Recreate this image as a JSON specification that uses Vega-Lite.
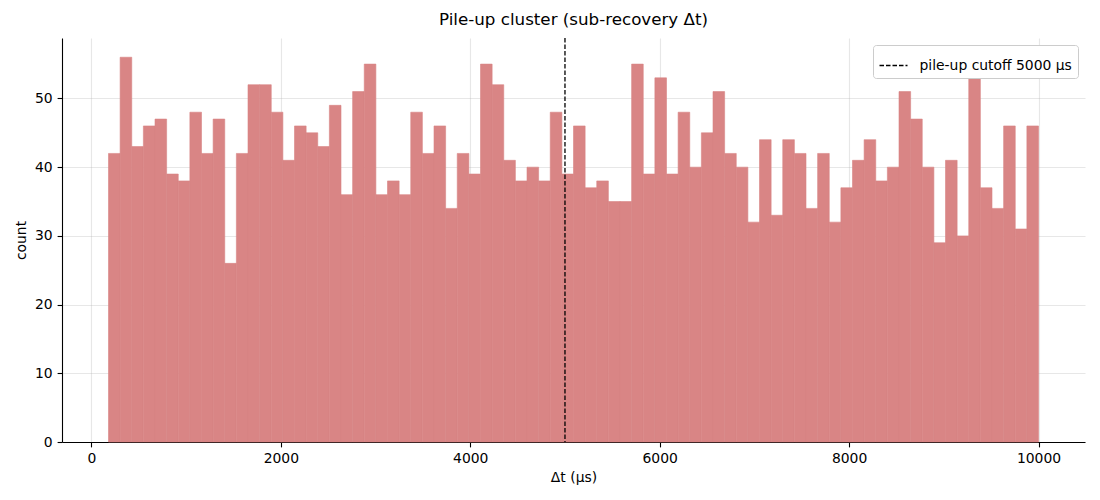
{
  "$schema": "https://vega.github.io/schema/vega-lite/v6.json",
  "width": 1023,
  "height": 404,
  "autosize": {"type": "none"},
  "padding": {"left": 62, "top": 38, "right": 15, "bottom": 58},
  "title": {
    "text": "Pile-up cluster (sub-recovery Δt)",
    "font": "DejaVu Sans",
    "fontSize": 16.7,
    "fontWeight": "normal",
    "color": "black",
    "offset": 9
  },
  "config": {
    "view": {"stroke": null},
    "font": "DejaVu Sans",
    "axis": {
      "zindex": 1,
      "domainColor": "black",
      "domainWidth": 1.1,
      "tickColor": "black",
      "tickWidth": 1.1,
      "tickSize": 4.9,
      "labelPadding": 4.9,
      "labelFont": "DejaVu Sans",
      "labelFontSize": 13.9,
      "labelColor": "black",
      "titleFont": "DejaVu Sans",
      "titleFontSize": 13.9,
      "titleFontWeight": "normal",
      "titleColor": "black",
      "gridColor": "#b0b0b0",
      "gridOpacity": 0.3,
      "gridWidth": 1.1
    }
  },
  "layer": [
    {
      "data": {
        "values": [
          {"x0": 180, "x1": 302.75, "count": 42},
          {"x0": 302.75, "x1": 425.5, "count": 56},
          {"x0": 425.5, "x1": 548.25, "count": 43},
          {"x0": 548.25, "x1": 671, "count": 46},
          {"x0": 671, "x1": 793.75, "count": 47},
          {"x0": 793.75, "x1": 916.5, "count": 39},
          {"x0": 916.5, "x1": 1039.25, "count": 38},
          {"x0": 1039.25, "x1": 1162, "count": 48},
          {"x0": 1162, "x1": 1284.75, "count": 42},
          {"x0": 1284.75, "x1": 1407.5, "count": 47},
          {"x0": 1407.5, "x1": 1530.25, "count": 26},
          {"x0": 1530.25, "x1": 1653, "count": 42},
          {"x0": 1653, "x1": 1775.75, "count": 52},
          {"x0": 1775.75, "x1": 1898.5, "count": 52},
          {"x0": 1898.5, "x1": 2021.25, "count": 48},
          {"x0": 2021.25, "x1": 2144, "count": 41},
          {"x0": 2144, "x1": 2266.75, "count": 46},
          {"x0": 2266.75, "x1": 2389.5, "count": 45},
          {"x0": 2389.5, "x1": 2512.25, "count": 43},
          {"x0": 2512.25, "x1": 2635, "count": 49},
          {"x0": 2635, "x1": 2757.75, "count": 36},
          {"x0": 2757.75, "x1": 2880.5, "count": 51},
          {"x0": 2880.5, "x1": 3003.25, "count": 55},
          {"x0": 3003.25, "x1": 3126, "count": 36},
          {"x0": 3126, "x1": 3248.75, "count": 38},
          {"x0": 3248.75, "x1": 3371.5, "count": 36},
          {"x0": 3371.5, "x1": 3494.25, "count": 48},
          {"x0": 3494.25, "x1": 3617, "count": 42},
          {"x0": 3617, "x1": 3739.75, "count": 46},
          {"x0": 3739.75, "x1": 3862.5, "count": 34},
          {"x0": 3862.5, "x1": 3985.25, "count": 42},
          {"x0": 3985.25, "x1": 4108, "count": 39},
          {"x0": 4108, "x1": 4230.75, "count": 55},
          {"x0": 4230.75, "x1": 4353.5, "count": 52},
          {"x0": 4353.5, "x1": 4476.25, "count": 41},
          {"x0": 4476.25, "x1": 4599, "count": 38},
          {"x0": 4599, "x1": 4721.75, "count": 40},
          {"x0": 4721.75, "x1": 4844.5, "count": 38},
          {"x0": 4844.5, "x1": 4967.25, "count": 48},
          {"x0": 4967.25, "x1": 5090, "count": 39},
          {"x0": 5090, "x1": 5212.75, "count": 46},
          {"x0": 5212.75, "x1": 5335.5, "count": 37},
          {"x0": 5335.5, "x1": 5458.25, "count": 38},
          {"x0": 5458.25, "x1": 5581, "count": 35},
          {"x0": 5581, "x1": 5703.75, "count": 35},
          {"x0": 5703.75, "x1": 5826.5, "count": 55},
          {"x0": 5826.5, "x1": 5949.25, "count": 39},
          {"x0": 5949.25, "x1": 6072, "count": 53},
          {"x0": 6072, "x1": 6194.75, "count": 39},
          {"x0": 6194.75, "x1": 6317.5, "count": 48},
          {"x0": 6317.5, "x1": 6440.25, "count": 40},
          {"x0": 6440.25, "x1": 6563, "count": 45},
          {"x0": 6563, "x1": 6685.75, "count": 51},
          {"x0": 6685.75, "x1": 6808.5, "count": 42},
          {"x0": 6808.5, "x1": 6931.25, "count": 40},
          {"x0": 6931.25, "x1": 7054, "count": 32},
          {"x0": 7054, "x1": 7176.75, "count": 44},
          {"x0": 7176.75, "x1": 7299.5, "count": 33},
          {"x0": 7299.5, "x1": 7422.25, "count": 44},
          {"x0": 7422.25, "x1": 7545, "count": 42},
          {"x0": 7545, "x1": 7667.75, "count": 34},
          {"x0": 7667.75, "x1": 7790.5, "count": 42},
          {"x0": 7790.5, "x1": 7913.25, "count": 32},
          {"x0": 7913.25, "x1": 8036, "count": 37},
          {"x0": 8036, "x1": 8158.75, "count": 41},
          {"x0": 8158.75, "x1": 8281.5, "count": 44},
          {"x0": 8281.5, "x1": 8404.25, "count": 38},
          {"x0": 8404.25, "x1": 8527, "count": 40},
          {"x0": 8527, "x1": 8649.75, "count": 51},
          {"x0": 8649.75, "x1": 8772.5, "count": 47},
          {"x0": 8772.5, "x1": 8895.25, "count": 40},
          {"x0": 8895.25, "x1": 9018, "count": 29},
          {"x0": 9018, "x1": 9140.75, "count": 41},
          {"x0": 9140.75, "x1": 9263.5, "count": 30},
          {"x0": 9263.5, "x1": 9386.25, "count": 53},
          {"x0": 9386.25, "x1": 9509, "count": 37},
          {"x0": 9509, "x1": 9631.75, "count": 34},
          {"x0": 9631.75, "x1": 9754.5, "count": 46},
          {"x0": 9754.5, "x1": 9877.25, "count": 31},
          {"x0": 9877.25, "x1": 10000, "count": 46}
        ]
      },
      "mark": {"type": "rect", "fill": "#d98585", "stroke": "#d98585", "strokeWidth": 0.6},
      "encoding": {
        "x": {
          "field": "x0",
          "type": "quantitative",
          "scale": {"domain": [-311, 10491], "nice": false, "zero": false},
          "axis": {
            "title": "Δt (μs)",
            "values": [0, 2000, 4000, 6000, 8000, 10000],
            "format": "d",
            "titlePadding": 5
          }
        },
        "x2": {"field": "x1"},
        "y": {
          "field": "count",
          "type": "quantitative",
          "scale": {"domain": [0, 58.8], "nice": false},
          "axis": {
            "title": "count",
            "values": [0, 10, 20, 30, 40, 50],
            "titlePadding": 6
          }
        },
        "y2": {"datum": 0}
      }
    },
    {
      "data": {"values": [{"cutoff": 5000, "label": "pile-up cutoff 5000 μs"}]},
      "mark": {"type": "rule", "color": "black", "strokeWidth": 1.3, "opacity": 1, "zindex": 2},
      "encoding": {
        "x": {"field": "cutoff", "type": "quantitative"},
        "strokeDash": {
          "field": "label",
          "type": "nominal",
          "scale": {"range": [[4.5, 2]]},
          "legend": {
            "title": null,
            "orient": "top-right",
            "offset": 7,
            "fillColor": "white",
            "strokeColor": "#cccccc",
            "cornerRadius": 3,
            "padding": 5.5,
            "symbolType": "stroke",
            "symbolSize": 784,
            "symbolStrokeColor": "black",
            "symbolStrokeWidth": 1.3,
            "symbolOpacity": 1,
            "labelFont": "DejaVu Sans",
            "labelFontSize": 13.9,
            "labelColor": "black",
            "labelOffset": 11
          }
        }
      }
    }
  ]
}
